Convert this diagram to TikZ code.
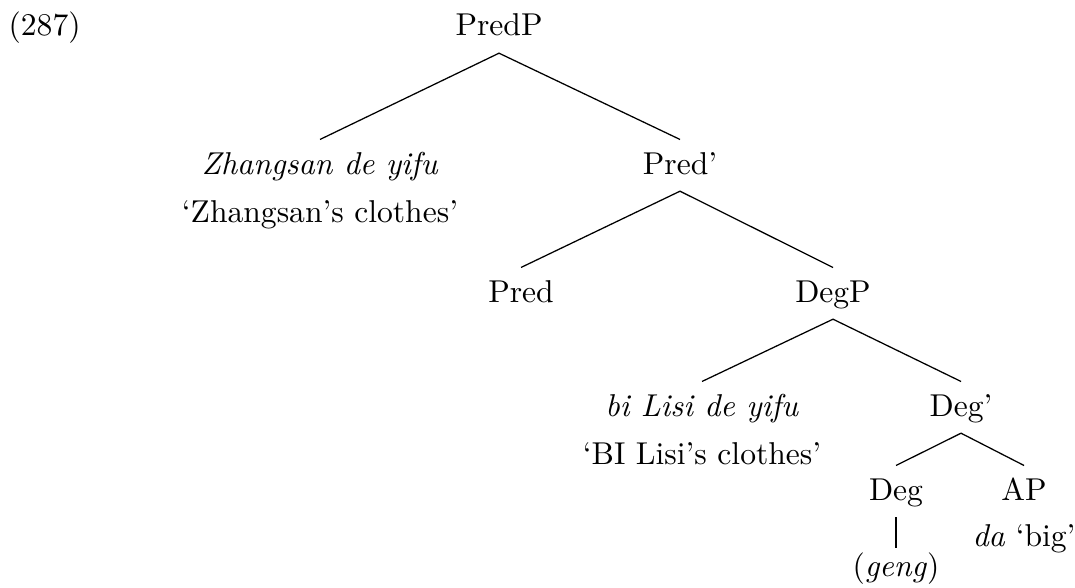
\documentclass[tikz,border=0pt]{standalone}
\usetikzlibrary{positioning}

\begin{document}
\begin{tikzpicture}[x=0.3165pt,y=-0.3165pt,
  cat/.style={inner sep=0pt,text height=6.83pt,text depth=1.94pt,anchor=base}]
  \useasboundingbox (0,0) rectangle (1075,587);
  \node[anchor=base west,inner sep=0pt] (exno) at (8,36) {(287)};
  % categories
  \node[cat] (predp) at (499,36) {PredP};
  \node[cat] (zs) at (320,174) {\textit{Zhangsan de yifu}};
  \node[cat,below=6.3pt of zs] (zsgloss) {`Zhangsan's clothes'};
  \node[cat] (predbar) at (680,174) {Pred'};
  \node[cat] (pred) at (521,302) {Pred};
  \node[cat] (degp) at (833,302) {DegP};
  \node[cat] (bi) at (702,416) {\textit{bi Lisi de yifu}};
  \node[cat,below=6.1pt of bi] (bigloss) {`BI Lisi's clothes'};
  \node[cat] (degbar) at (961,416) {Deg'};
  \node[cat] (deg) at (896,500) {Deg};
  \node[cat] (ap) at (1024,500) {AP};
  \node[cat,below=14.9pt of deg] (geng) {(\textit{geng})};
  \node[cat,below=5.45pt of ap] (da) {\textit{da} `big'};
  % branches
  \draw ([yshift=3.9pt]zs.north) -- ([yshift=-3.3pt]predp.south)
    -- ([yshift=3.9pt]predbar.north);
  \draw ([yshift=3.9pt]pred.north) -- ([yshift=-3.3pt]predbar.south)
    -- ([yshift=3.9pt]degp.north);
  \draw ([yshift=3.9pt]bi.north) -- ([yshift=-3.3pt]degp.south)
    -- ([yshift=3.9pt]degbar.north);
  \draw ([yshift=3.9pt]deg.north) -- ([yshift=-3.3pt]degbar.south)
    -- ([yshift=3.9pt]ap.north);
  \draw ([yshift=-3.3pt]deg.south) -- ([yshift=2pt]geng.north);
\end{tikzpicture}
\end{document}
